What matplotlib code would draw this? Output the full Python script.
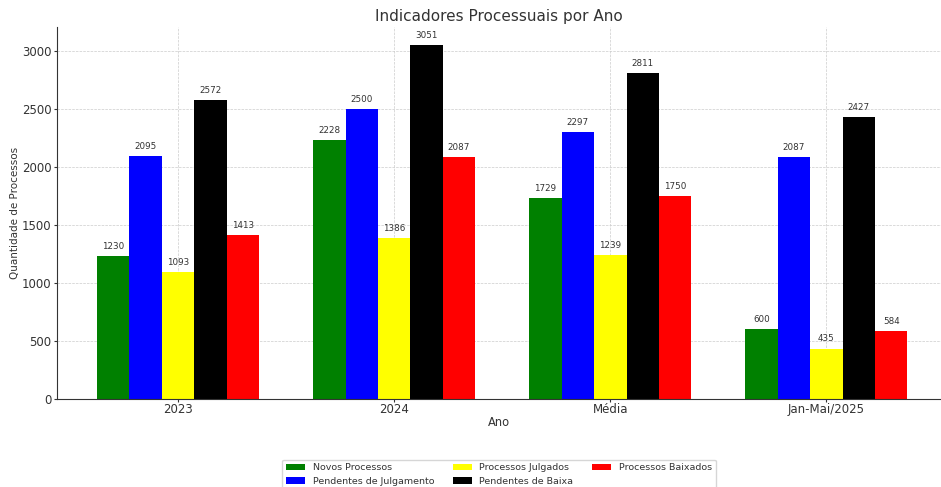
import matplotlib.pyplot as plt
import numpy as np

# dados do gráfico
anos = ["2023", "2024", "Média", "Jan-Mai/2025"]
series = ["Novos Processos", "Pendentes de Julgamento", "Processos Julgados",
          "Pendentes de Baixa", "Processos Baixados"]
cores = ["green", "blue", "yellow", "black", "red"]

novos = [1230, 2228, 1729, 600]
pend_julg = [2095, 2500, 2297, 2087]
julgados = [1093, 1386, 1239, 435]
pend_baixa = [2572, 3051, 2811, 2427]
baixados = [1413, 2087, 1750, 584]

valores = [novos, pend_julg, julgados, pend_baixa, baixados]

texto = "#333333"

fig = plt.figure(figsize=(9.41, 4.87), dpi=100)
ax = fig.add_axes([57 / 941, 88 / 487, 884 / 941, 372 / 487])

x = np.arange(len(anos))
largura = 0.15

for i, (nome, vals, cor) in enumerate(zip(series, valores, cores)):
    pos = x + (i - 2) * largura
    barras = ax.bar(pos, vals, largura, label=nome, color=cor, zorder=2)
    for b, v in zip(barras, vals):
        ax.text(b.get_x() + b.get_width() / 2, b.get_height() + 45, str(v),
                ha='center', va='bottom', fontsize=6.3, color=texto)

ax.set_xlim(-0.56, 3.53)
ax.set_ylim(0, 3205)
ax.set_xticks(x)
ax.set_xticklabels(anos)
ax.set_title("Indicadores Processuais por Ano", fontsize=11, color=texto, pad=4)
ax.set_xlabel("Ano", fontsize=8.3, color=texto, labelpad=0)
ax.set_ylabel("Quantidade de Processos", fontsize=7.5, color=texto, labelpad=1)
ax.tick_params(colors=texto, labelsize=8.5, length=2.5)
ax.tick_params(axis='x', pad=0.5)
ax.tick_params(axis='y', pad=1.5)

ax.grid(True, linestyle='--', linewidth=0.5, color='#cccccc', zorder=0)
ax.spines['top'].set_visible(False)
ax.spines['right'].set_visible(False)
ax.spines['left'].set_color('#333333')
ax.spines['bottom'].set_color('#333333')

ax.legend(loc='upper center', bbox_to_anchor=(0.5, -0.15), ncol=3,
          fontsize=6.8, frameon=True, labelcolor=texto)

plt.savefig("out.png", dpi=100)
